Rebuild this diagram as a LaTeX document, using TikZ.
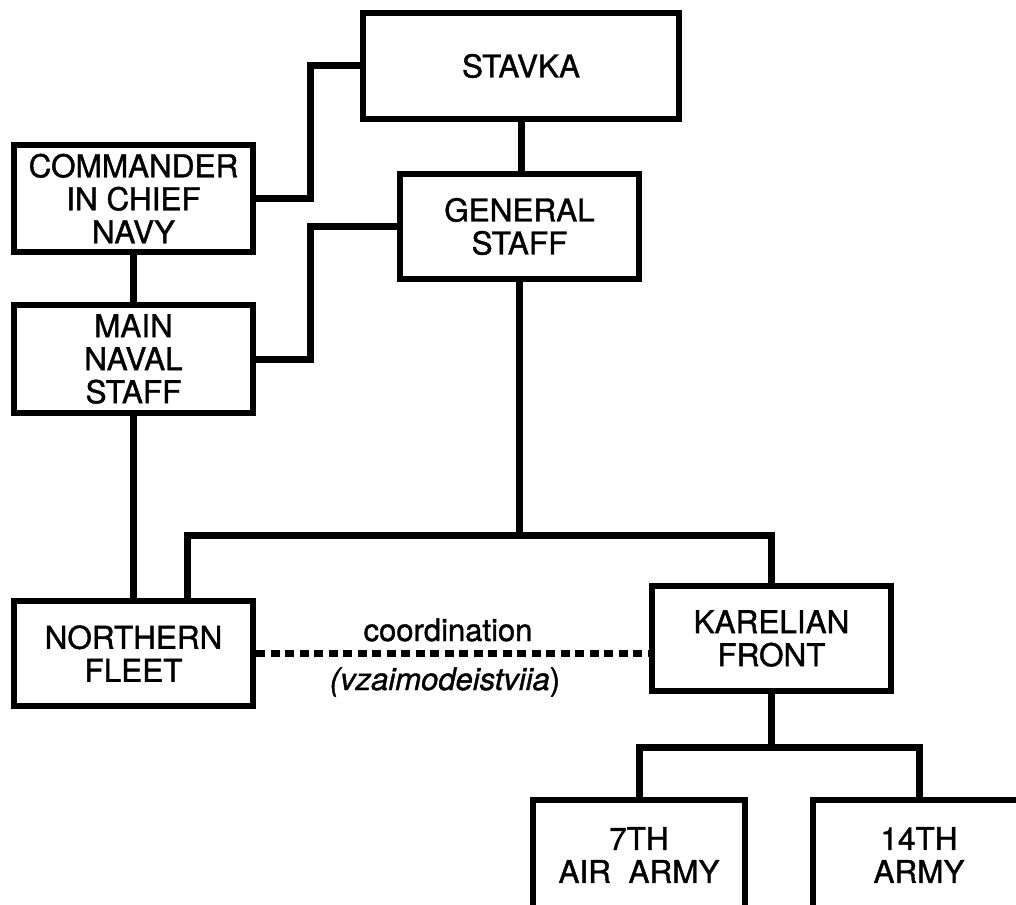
\documentclass[tikz,border=0pt]{standalone}
\usepackage{fontspec}
\setmainfont[FakeBold=1.2]{TeX Gyre Heros}
\begin{document}
\begin{tikzpicture}[x=1pt,y=-1pt,
  box/.style={draw, line width=6pt, align=center, inner sep=0pt,
    font=\fontsize{31.5}{33}\selectfont},
  conn/.style={line width=7pt, line join=miter},
  coordline/.style={line width=7pt, dash pattern=on 9pt off 5.5pt},
  lab/.style={inner sep=0pt, font=\fontsize{31}{33}\selectfont}]
\useasboundingbox (0,0) rectangle (1016,904);
\node[box, minimum width=316pt, minimum height=106pt] (stavka) at (521,66) {STAVKA};
\node[box, minimum width=239pt, minimum height=107pt] (cic) at (133.5,198.5) {COMMANDER\\IN CHIEF\\NAVY};
\node[box, minimum width=239pt, minimum height=105pt] (gs) at (519.5,226.5) {GENERAL\\STAFF};
\node[box, minimum width=239pt, minimum height=108pt] (mns) at (133.5,359) {MAIN\\NAVAL\\STAFF};
\node[box, minimum width=239pt, minimum height=105pt] (nf) at (133.5,653.5) {NORTHERN\\FLEET};
\node[box, minimum width=239pt, minimum height=105pt] (kf) at (771.5,638.5) {KARELIAN\\FRONT};
\node[box, minimum width=212pt, minimum height=110pt] (air) at (639,855) {7TH\\AIR~~ARMY};
\node[box, minimum width=212pt, minimum height=110pt] (a14) at (919,855) {14TH\\ARMY};
\coordinate (busM) at (519.5,535);
\coordinate (busL) at (187,535);
\coordinate (busR) at (771.5,535);
\coordinate (bus2M) at (771.5,747);
\coordinate (bus2L) at (639,747);
\coordinate (bus2R) at (919,747);
\draw[conn] (cic.east) -- ++(54,0) |- (stavka.west);
\draw[conn] (mns.east) -- ++(54,0) |- (gs.west);
\draw[conn] (stavka.south) -- (stavka.south |- gs.north);
\draw[conn] (cic.south) -- (mns.north);
\draw[conn] (mns.south) -- (nf.north);
\draw[conn] (gs.south) -- (busM);
\draw[conn] (busL |- nf.north) -- (busL) -- (busR) -- (kf.north);
\draw[conn] (kf.south) -- (bus2M);
\draw[conn] (air.north) -- (bus2L) -- (bus2R) -- (a14.north);
\draw[coordline] (nf.east) -- (nf.east -| kf.west);
\node[lab, anchor=base] (clab) at (448,641) {coordination};
\node[lab, anchor=base] (vlab) at (445,690) {{\itshape (vzaimodeistviia})};
\end{tikzpicture}
\end{document}
